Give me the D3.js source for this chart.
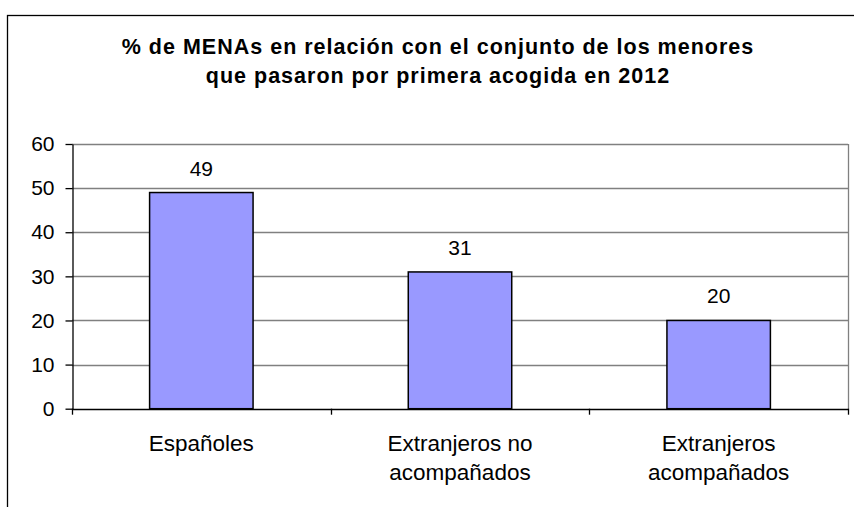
<!DOCTYPE html>
<html>
<head>
<meta charset="utf-8">
<script src="https://cdn.jsdelivr.net/npm/d3@7"></script>
<style>
  body { margin: 0; background: #fff; }
  text { font-family: "Liberation Sans", Arial, sans-serif; fill: #000; }
</style>
</head>
<body>
<div id="chart"></div>
<script>
// data
var categories = ["Españoles", "Extranjeros no acompañados", "Extranjeros acompañados"];
var values = [49, 31, 20];
var yTicks = [0, 10, 20, 30, 40, 50, 60];
var titleLines = ["% de MENAs en relación con el conjunto de los menores",
                  "que pasaron por primera acogida en 2012"];

var width = 854, height = 507;
var plot = {left: 72, right: 848, top: 144, bottom: 408.7};

var svg = d3.select("#chart").append("svg")
    .attr("width", width)
    .attr("height", height);

// outer frame (runs off the right and bottom edge)
svg.append("rect")
    .attr("x", 7.5).attr("y", 15.5)
    .attr("width", 1000).attr("height", 1000)
    .attr("fill", "none")
    .attr("stroke", "#000")
    .attr("stroke-width", 1.3);

// title
svg.append("g").selectAll("text")
    .data(titleLines)
  .enter().append("text")
    .attr("x", 438)
    .attr("y", function(d, i) { return 54 + i * 29; })
    .attr("text-anchor", "middle")
    .style("font-size", "21.5px")
    .style("font-weight", "bold")
    .style("letter-spacing", "1px")
    .text(function(d) { return d; });

var y = d3.scaleLinear()
    .domain([0, 60])
    .range([plot.bottom, plot.top]);

var x = d3.scaleBand()
    .domain(categories)
    .range([plot.left, plot.right])
    .paddingInner(0.6)
    .paddingOuter(0.3);

// gridlines
svg.append("g").selectAll("line")
    .data(yTicks.filter(function(d) { return d > 0; }))
  .enter().append("line")
    .attr("x1", plot.left).attr("x2", plot.right)
    .attr("y1", function(d) { return Math.round(y(d)) + 0.5; })
    .attr("y2", function(d) { return Math.round(y(d)) + 0.5; })
    .attr("stroke", "#808080")
    .attr("stroke-width", 1.3);

// right border of plot area
svg.append("line")
    .attr("x1", plot.right + 0.5).attr("x2", plot.right + 0.5)
    .attr("y1", plot.top).attr("y2", plot.bottom)
    .attr("stroke", "#808080")
    .attr("stroke-width", 1.3);

// bars
svg.append("g").selectAll("rect")
    .data(values)
  .enter().append("rect")
    .attr("x", function(d, i) { return x(categories[i]); })
    .attr("y", function(d) { return y(d); })
    .attr("width", x.bandwidth())
    .attr("height", function(d) { return y(0) - y(d); })
    .attr("fill", "#9999FF")
    .attr("stroke", "#000")
    .attr("stroke-width", 1.5);

// value labels
svg.append("g").selectAll("text")
    .data(values)
  .enter().append("text")
    .attr("x", function(d, i) { return x(categories[i]) + x.bandwidth() / 2; })
    .attr("y", function(d) { return y(d) - 17; })
    .attr("text-anchor", "middle")
    .style("font-size", "21px")
    .text(function(d) { return d; });

// y axis
var yAxis = svg.append("g")
    .attr("transform", "translate(" + (plot.left + 0.5) + ",0)")
    .call(d3.axisLeft(y).tickValues(yTicks).tickSize(7).tickPadding(11).tickSizeOuter(0));
yAxis.select(".domain").attr("stroke", "#000").attr("stroke-width", 1.3);
yAxis.selectAll(".tick line").attr("stroke", "#000").attr("stroke-width", 1.3);
yAxis.selectAll(".tick text")
    .style("font-size", "21px")
    .style("font-family", "'Liberation Sans', Arial, sans-serif")
    .attr("fill", "#000");

// x axis line and category dividers
var step = x.step();
var dividers = d3.range(categories.length + 1).map(function(i) { return plot.left + i * step; });
svg.append("line")
    .attr("x1", plot.left).attr("x2", plot.right + 1)
    .attr("y1", Math.round(plot.bottom) + 0.5).attr("y2", Math.round(plot.bottom) + 0.5)
    .attr("stroke", "#000")
    .attr("stroke-width", 1.5);
svg.append("g").selectAll("line")
    .data(dividers)
  .enter().append("line")
    .attr("x1", function(d) { return Math.round(d) + 0.5; })
    .attr("x2", function(d) { return Math.round(d) + 0.5; })
    .attr("y1", plot.bottom)
    .attr("y2", plot.bottom + 6)
    .attr("stroke", "#000")
    .attr("stroke-width", 1.3);

// category labels, wrapped to fit the band
var catLabels = svg.append("g").selectAll("text")
    .data(categories)
  .enter().append("text")
    .attr("text-anchor", "middle")
    .style("font-size", "22.5px")
    .attr("x", function(d) { return x(d) + x.bandwidth() / 2; })
    .attr("y", 451);

catLabels.each(function(d) {
  var el = d3.select(this);
  var cx = x(d) + x.bandwidth() / 2;
  var words = d.split(" ");
  var lines = [], line = [];
  words.forEach(function(w) {
    line.push(w);
    el.text(line.join(" "));
    if (this.getComputedTextLength() > step * 0.9 && line.length > 1) {
      line.pop();
      lines.push(line.join(" "));
      line = [w];
    }
  }, this);
  lines.push(line.join(" "));
  el.text(null);
  lines.forEach(function(l, i) {
    el.append("tspan").attr("x", cx).attr("dy", i === 0 ? 0 : 29).text(l);
  });
});
</script>
</body>
</html>
